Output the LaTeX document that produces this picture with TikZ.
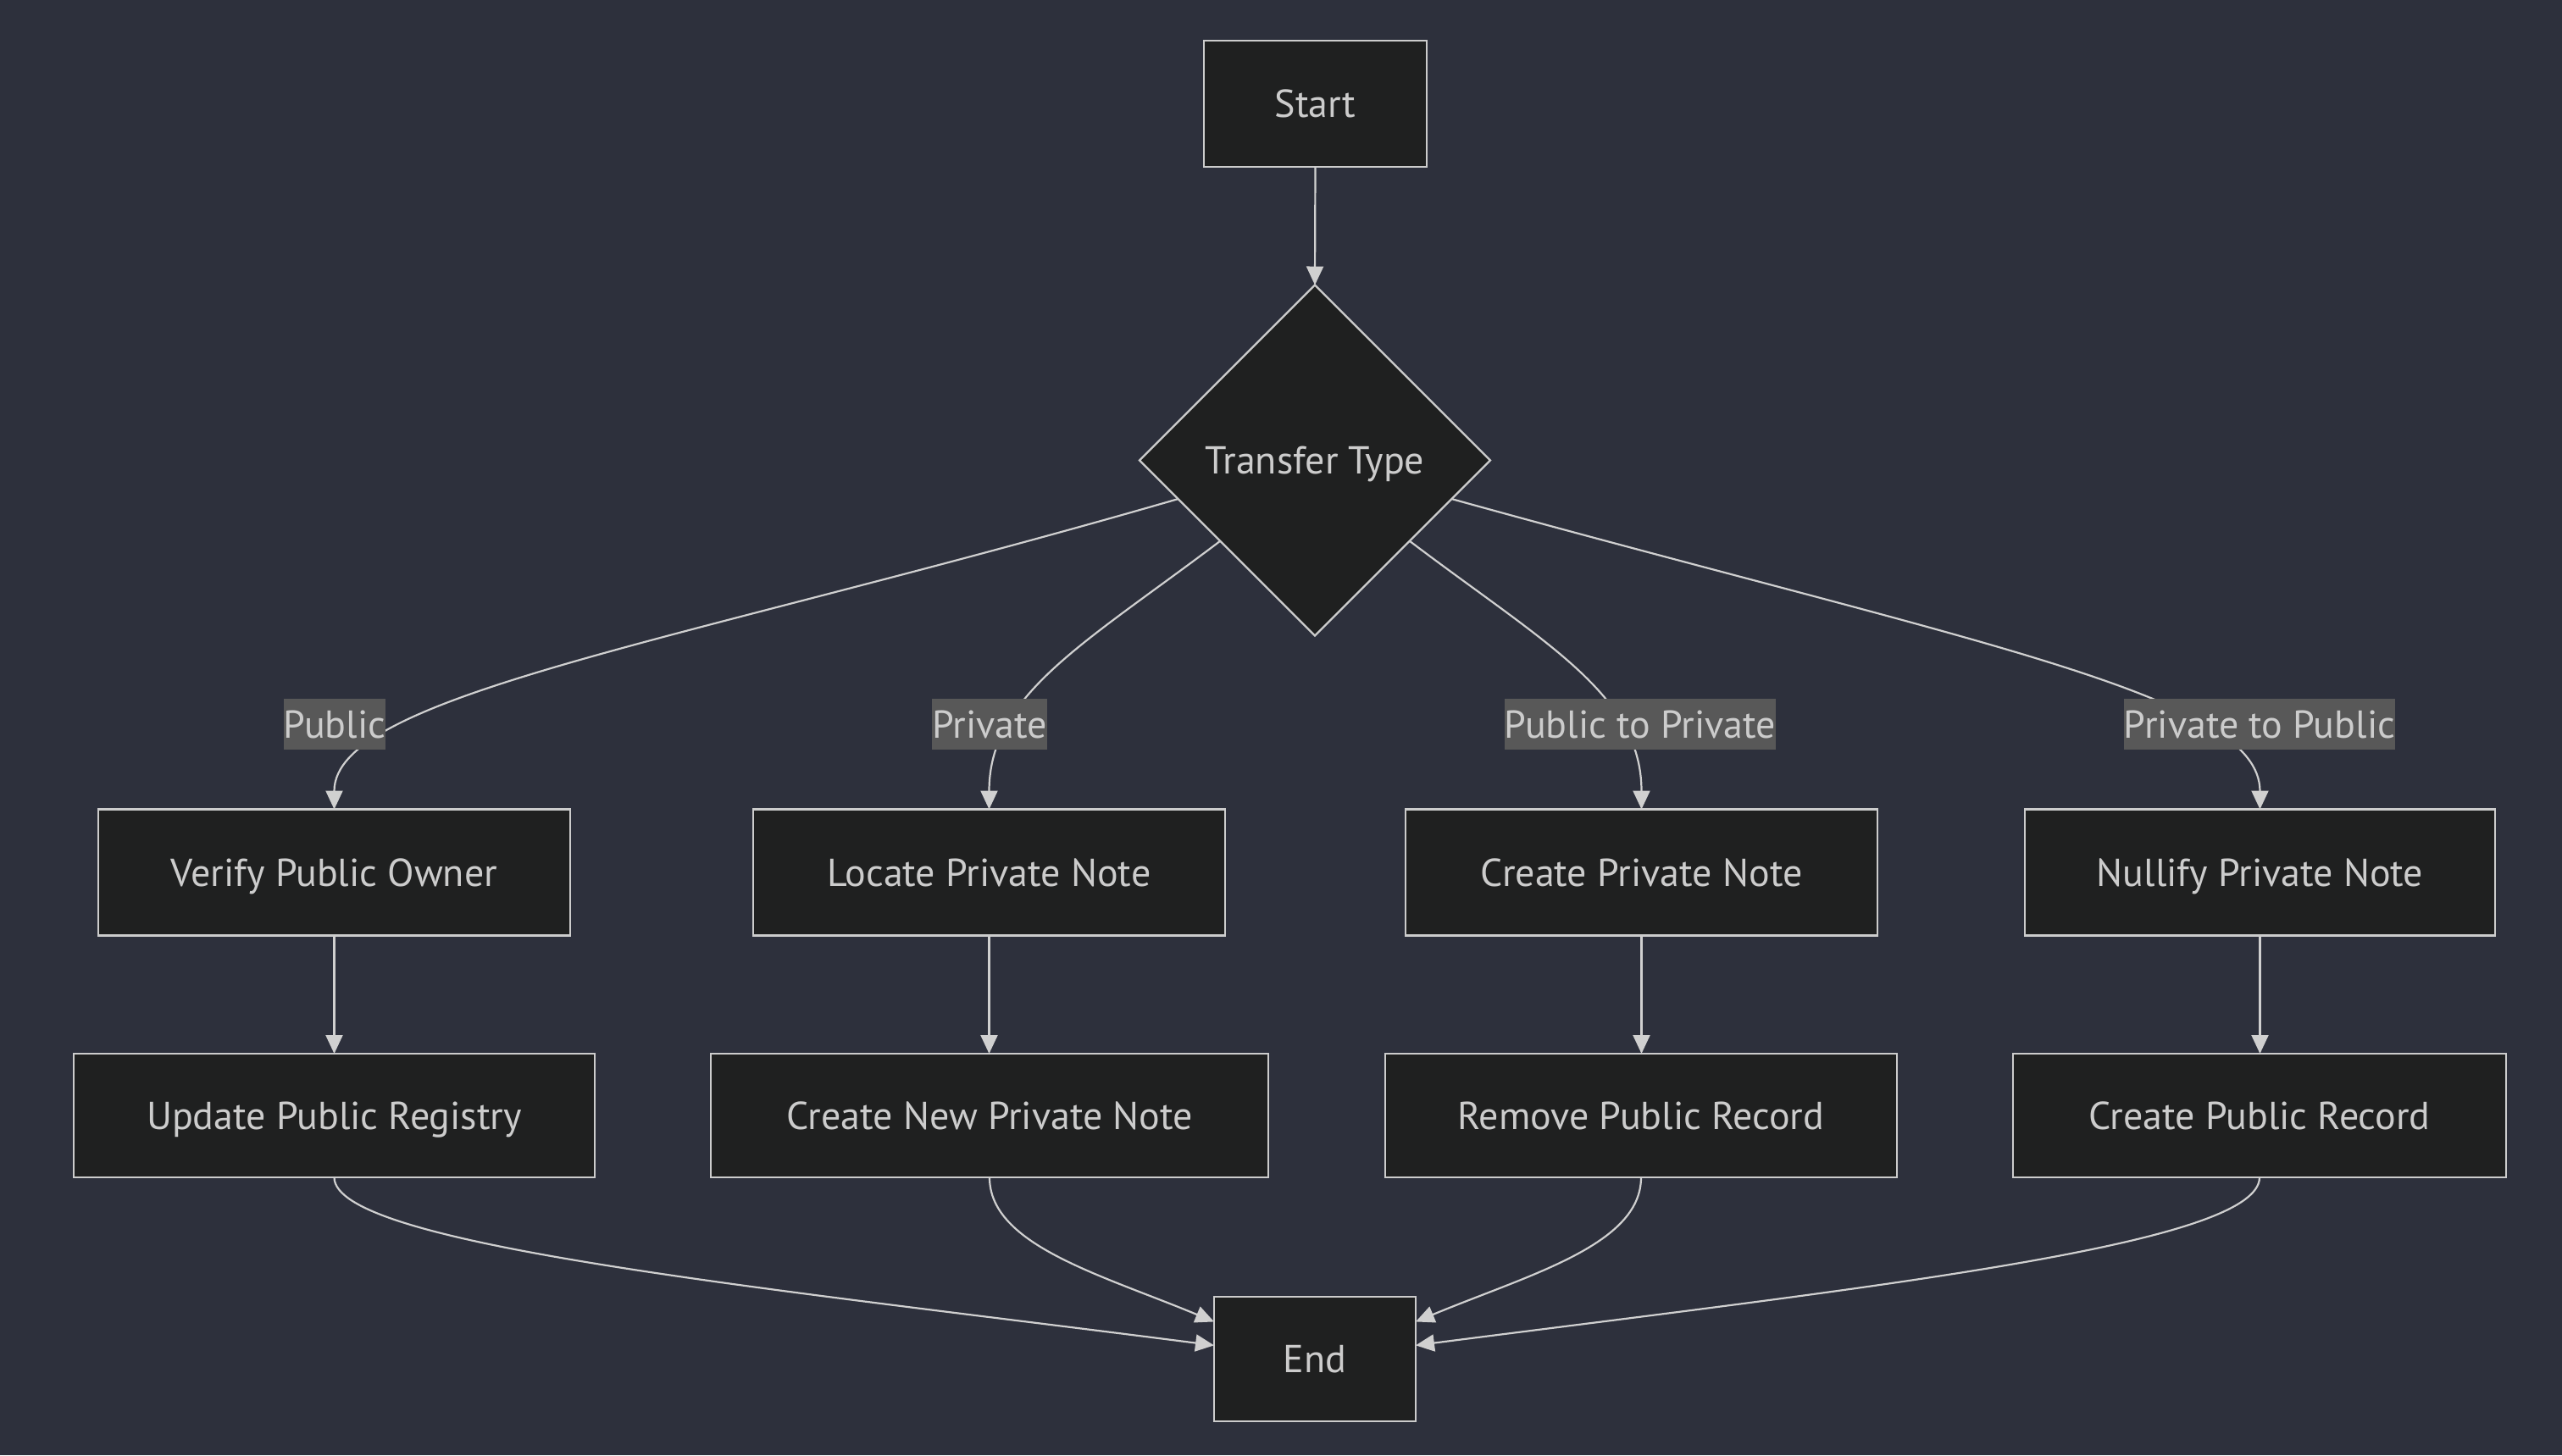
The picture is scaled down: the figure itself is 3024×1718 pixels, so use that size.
\documentclass[tikz,border=0pt]{standalone}
\usepackage{fontspec}
\setmainfont{PT Sans}
\usetikzlibrary{shapes.geometric,arrows.meta,calc}
\definecolor{bg}{RGB}{45,48,60}
\definecolor{nodefill}{HTML}{1F2020}
\definecolor{nodeline}{HTML}{CCCCCC}
\definecolor{txt}{HTML}{CCCCCC}
\definecolor{lblbg}{HTML}{585858}
\definecolor{edgecol}{HTML}{D0D0D0}
\newcommand{\nfont}{\fontsize{11.5}{13.8}\selectfont}
\begin{document}
\begin{tikzpicture}[x=0.25pt,y=-0.25pt,
  box/.style={draw=nodeline, fill=nodefill, line width=0.6pt, text=txt, font=\nfont, inner sep=0pt, outer sep=0pt, minimum height=37.25pt, text height=8.1pt, text depth=0pt},
  dia/.style={diamond, draw=nodeline, fill=nodefill, line width=0.6pt, text=txt, font=\nfont, inner sep=0pt, outer sep=0pt, minimum width=103.5pt, minimum height=103.5pt, text height=8.1pt, text depth=0pt},
  lbl/.style={fill=lblbg, text=txt, font=\nfont, inner xsep=0pt, inner ysep=0pt, minimum height=15pt, text height=8.1pt, text depth=0pt},
  conn/.style={draw=edgecol, line width=0.55pt, -{Triangle[length=5.5pt,width=5pt]}}
]
\fill[bg] (0,0) rectangle (3024,1718);
\useasboundingbox (0,0) rectangle (3024,1718);

% nodes
\node[box, minimum width=65.75pt] (S) at (1552.5,122.5) {Start};
\node[dia] (D) at (1552,543.5) {Transfer Type};

\node[box, minimum width=139.25pt] (V) at (394.5,1030) {Verify Public Owner};
\node[box, minimum width=139.25pt] (L) at (1167.5,1030) {Locate Private Note};
\node[box, minimum width=139.25pt] (C) at (1937.5,1030) {Create Private Note};
\node[box, minimum width=138.75pt] (N) at (2667.5,1030) {Nullify Private Note};

\node[box, minimum width=153.75pt, minimum height=36.5pt] (U) at (394.5,1317) {Update Public Registry};
\node[box, minimum width=164.5pt, minimum height=36.5pt] (CN) at (1168,1317) {Create New Private Note};
\node[box, minimum width=151pt, minimum height=36.5pt] (R) at (1937,1317) {Remove Public Record};
\node[box, minimum width=145.5pt, minimum height=36.5pt] (CP) at (2667,1317) {Create Public Record};

\node[box, minimum width=59.5pt, minimum height=36.75pt] (E) at (1552,1604.5) {End};

% anchor points
\coordinate (d1) at ($(D.west)!0.22!(D.south)$);
\coordinate (d2) at ($(D.west)!0.46!(D.south)$);
\coordinate (d3) at ($(D.east)!0.46!(D.south)$);
\coordinate (d4) at ($(D.east)!0.22!(D.south)$);
\coordinate (e1) at ($(E.north west)!0.39!(E.south west)$);
\coordinate (e2) at ($(E.north west)!0.20!(E.south west)$);
\coordinate (e3) at ($(E.north east)!0.20!(E.south east)$);
\coordinate (e4) at ($(E.north east)!0.39!(E.south east)$);

% connectors
\draw[conn] (S.south) -- (D.north);
\draw[conn] (d1) .. controls (800,760) and (394.5,820) .. (V.north);
\draw[conn] (d2) .. controls (1280,760) and (1167.5,820) .. (L.north);
\draw[conn] (d3) .. controls (1824,760) and (1937.5,820) .. (C.north);
\draw[conn] (d4) .. controls (2330,760) and (2667.5,820) .. (N.north);

\draw[conn] (V.south) -- (U.north);
\draw[conn] (L.south) -- (L.south |- CN.north);
\draw[conn] (C.south) -- (C.south |- R.north);
\draw[conn] (N.south) -- (N.south |- CP.north);

\draw[conn] (U.south) .. controls (394.5,1470) and (900,1520) .. (e1);
\draw[conn] (CN.south) .. controls (1168,1470) and (1300,1505) .. (e2);
\draw[conn] (R.south) .. controls (1937,1470) and (1804,1505) .. (e3);
\draw[conn] (CP.south) .. controls (2667,1470) and (2204,1520) .. (e4);

% edge labels
\node[lbl] (l1) at (395,855) {Public};
\node[lbl] (l2) at (1168,855) {Private};
\node[lbl] (l3) at (1936,855) {Public to Private};
\node[lbl] (l4) at (2667,855) {Private to Public};
\end{tikzpicture}
\end{document}
